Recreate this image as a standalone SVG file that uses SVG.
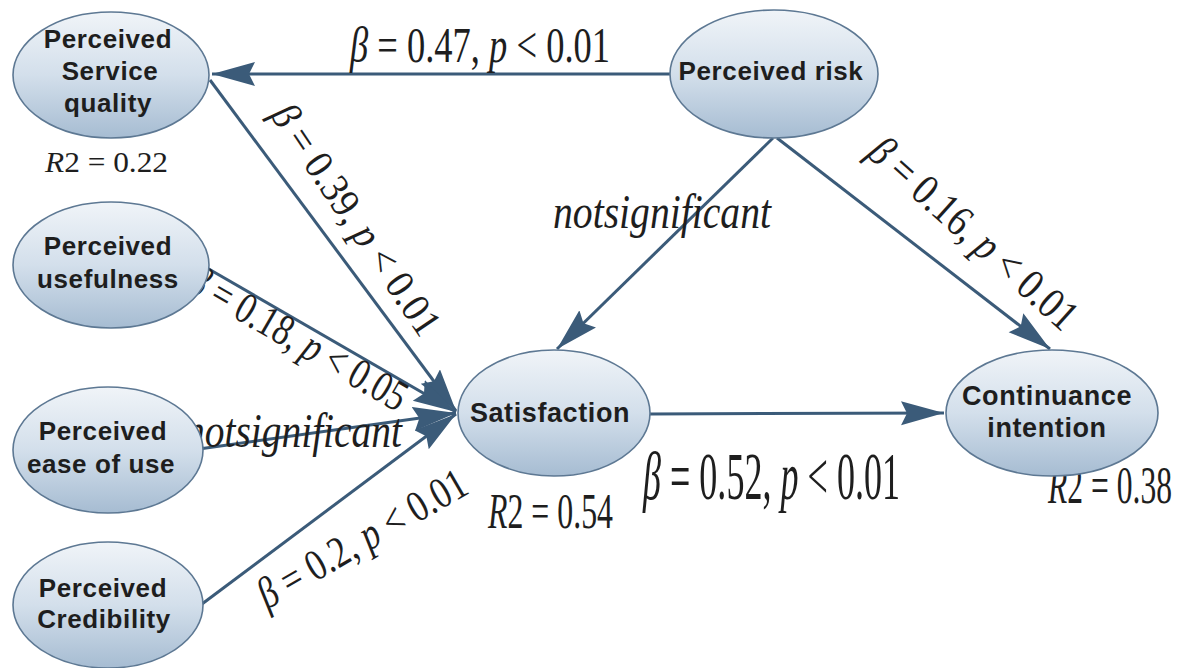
<svg xmlns="http://www.w3.org/2000/svg" width="1189" height="668" viewBox="0 0 1189 668">
<defs>
<linearGradient id="nodeFill" x1="0" y1="0" x2="0" y2="1">
<stop offset="0" stop-color="#f0f4f8"/>
<stop offset="0.5" stop-color="#d3dfeb"/>
<stop offset="1" stop-color="#a6bcd2"/>
</linearGradient>
<marker id="arr" markerUnits="userSpaceOnUse" markerWidth="48" markerHeight="26" refX="43" refY="12" orient="auto">
<path d="M0,0 L43,12 L0,24 L6,12 z" fill="#3b5b79"/>
</marker>
<style>
.node ellipse{fill:url(#nodeFill);stroke:#5d7893;stroke-width:1.6}
.node text{font-family:"Liberation Sans",Arial,sans-serif;font-weight:bold;font-size:26px;letter-spacing:0.6px;fill:#1e1e1e;text-anchor:middle}
.edge{stroke:#3b5b79;stroke-width:3;fill:none;marker-end:url(#arr)}
.lbl{font-family:"Liberation Serif","Times New Roman",serif;fill:#1e1e1e}
.it{font-style:italic}
</style>
</defs>

<g id="connectors">
<line class="edge" x1="670" y1="74" x2="212" y2="74"/>
<line class="edge" x1="210" y1="80" x2="456" y2="411"/>
<line class="edge" x1="207" y1="268" x2="456" y2="412"/>
<line class="edge" x1="199" y1="449" x2="456" y2="413"/>
<line class="edge" x1="202" y1="604" x2="456" y2="414"/>
<line class="edge" x1="773" y1="138" x2="557" y2="349"/>
<line class="edge" x1="777" y1="138" x2="1050" y2="349"/>
<line class="edge" x1="650" y1="414" x2="944" y2="413"/>
</g>

<g id="labels">
<text class="lbl" x="350" y="62" font-size="50" textLength="260" lengthAdjust="spacingAndGlyphs"><tspan class="it">β</tspan> = 0.47, <tspan class="it">p</tspan> &lt; 0.01</text>
<text class="lbl" x="45" y="172" font-size="30" textLength="123" lengthAdjust="spacingAndGlyphs"><tspan class="it">R</tspan>2 = 0.22</text>
<text class="lbl" transform="translate(345,227) rotate(56)" x="0" y="0" font-size="41" text-anchor="middle" textLength="270" lengthAdjust="spacingAndGlyphs"><tspan class="it">β</tspan> = 0.39, <tspan class="it">p</tspan> &lt; 0.01</text>
<text class="lbl it" x="553" y="228" font-size="48" textLength="218" lengthAdjust="spacingAndGlyphs">notsignificant</text>
<text class="lbl" transform="translate(964,244) rotate(42)" x="0" y="0" font-size="44" text-anchor="middle" textLength="265" lengthAdjust="spacingAndGlyphs"><tspan class="it">β</tspan> = 0.16, <tspan class="it">p</tspan> &lt; 0.01</text>
<text class="lbl" transform="translate(291,351) rotate(30)" x="0" y="0" font-size="44" text-anchor="middle" textLength="245" lengthAdjust="spacingAndGlyphs"><tspan class="it">β</tspan> = 0.18, <tspan class="it">p</tspan> &lt; 0.05</text>
<text class="lbl it" x="185" y="447" font-size="48" textLength="217" lengthAdjust="spacingAndGlyphs">notsignificant</text>
<text class="lbl" transform="translate(369,551) rotate(-30)" x="0" y="0" font-size="44" text-anchor="middle" textLength="235" lengthAdjust="spacingAndGlyphs"><tspan class="it">β</tspan> = 0.2, <tspan class="it">p</tspan> &lt; 0.01</text>
<text class="lbl" x="488" y="528" font-size="50" textLength="125" lengthAdjust="spacingAndGlyphs"><tspan class="it">R</tspan>2 = 0.54</text>
<text class="lbl" x="643" y="499" font-size="67" textLength="257" lengthAdjust="spacingAndGlyphs"><tspan class="it">β</tspan> = 0.52, <tspan class="it">p</tspan> &lt; 0.01</text>
<text class="lbl" x="1048" y="503" font-size="53" textLength="124" lengthAdjust="spacingAndGlyphs"><tspan class="it">R</tspan>2 = 0.38</text>
</g>

<g id="node-service-quality" class="node">
<ellipse cx="111" cy="75" rx="98" ry="63"/>
<text x="108" y="48">Perceived</text>
<text x="110" y="80">Service</text>
<text x="108" y="112">quality</text>
</g>
<g id="node-usefulness" class="node">
<ellipse cx="111" cy="265" rx="98" ry="63"/>
<text x="108" y="255">Perceived</text>
<text x="108" y="288">usefulness</text>
</g>
<g id="node-ease-of-use" class="node">
<ellipse cx="108" cy="450" rx="95" ry="63"/>
<text x="103" y="440">Perceived</text>
<text x="101" y="473">ease of use</text>
</g>
<g id="node-credibility" class="node">
<ellipse cx="108" cy="605" rx="95" ry="63"/>
<text x="103" y="597">Perceived</text>
<text x="104" y="628">Credibility</text>
</g>
<g id="node-risk" class="node">
<ellipse cx="774" cy="74" rx="104" ry="64"/>
<text x="771" y="80">Perceived risk</text>
</g>
<g id="node-satisfaction" class="node">
<ellipse cx="554" cy="413" rx="96" ry="63"/>
<text x="550" y="422" style="font-size:27px">Satisfaction</text>
</g>
<g id="node-continuance" class="node">
<ellipse cx="1052" cy="413" rx="106" ry="63"/>
<text x="1047" y="405" style="font-size:27px">Continuance</text>
<text x="1047" y="437" style="font-size:27px">intention</text>
</g>
</svg>
